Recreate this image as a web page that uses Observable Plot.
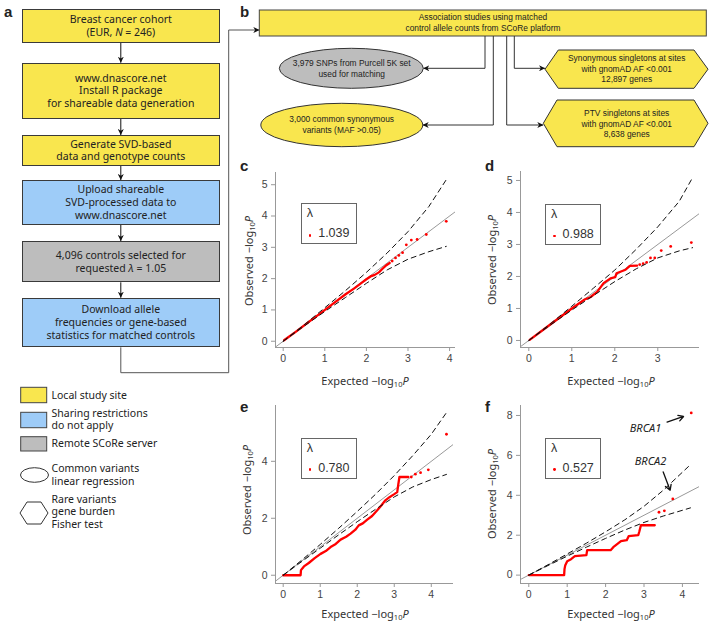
<!DOCTYPE html>
<html><head><meta charset="utf-8">
<script src="https://cdn.jsdelivr.net/npm/d3@7"></script>
<script src="https://cdn.jsdelivr.net/npm/@observablehq/plot@0.6"></script>
<style>
html,body{margin:0;padding:0;background:#fff;}
#root{position:relative;width:709px;height:624px;overflow:hidden;font-family:"Noto Sans",sans-serif;color:#222;}
.box{position:absolute;box-sizing:border-box;border:1px solid #3a3a3a;display:flex;align-items:center;justify-content:center;text-align:center;font-size:10.5px;line-height:12.8px;}
.t{position:absolute;white-space:nowrap;font-size:10.5px;line-height:12.5px;}
.plet{position:absolute;font-weight:bold;font-size:15px;font-family:"Liberation Sans",Arial,sans-serif;line-height:15px;}
.xl{position:absolute;font-size:11px;white-space:nowrap;transform:translate(-50%,-50%);color:#333;}
.yl{position:absolute;font-size:11px;white-space:nowrap;transform:translate(-50%,-50%) rotate(-90deg);color:#333;}
.lam{position:absolute;box-sizing:border-box;border:1px solid #666;background:#fff;font-family:"Liberation Sans",Arial,sans-serif;color:#333;}
sub{font-size:7.5px;vertical-align:-2px;}
</style></head><body><div id="root"></div>
<script>
// ---------- text content ----------
const flowA = [
  "Breast cancer cohort<br>(EUR, <i>N</i> = 246)",
  "www.dnascore.net<br>Install R package<br>for shareable data generation",
  "Generate SVD-based<br>data and genotype counts",
  "Upload shareable<br>SVD-processed data to<br>www.dnascore.net",
  "4,096 controls selected for<br>requested <i>λ</i> = 1.05",
  "Download allele<br>frequencies or gene-based<br>statistics for matched controls"
];
const flowKinds = ["local","local","local","open","remote","open"];
const kindColors = {local:"#F9E64E", open:"#9ECCF8", remote:"#BDBDBD"};
const legendLabels = ["Local study site","Sharing restrictions<br>do not apply","Remote SCoRe server","Common variants<br>linear regression","Rare variants<br>gene burden<br>Fisher test"];
const bMain = ["Association studies using matched","control allele counts from SCoRe platform"];
const bCommon = [["3,979 SNPs from Purcell 5K set","used for matching"],["3,000 common synonymous","variants (MAF >0.05)"]];
const bRare = [["Synonymous singletons at sites","with gnomAD AF <0.001","12,897 genes"],["PTV singletons at sites","with gnomAD AF <0.001","8,638 genes"]];
const lambdas = ["1.039","0.988","0.780","0.527"];

// ---------- QQ data (expected, observed) ----------
const diagonal = [-1, 12];
const cDense = [[0.02,0.03],[0.3,0.3],[0.6,0.6],[0.9,0.9],[1.2,1.2],[1.5,1.5],[1.7,1.68],[1.9,1.88],[2.0,1.98],[2.1,2.07],[2.2,2.12],[2.3,2.2],[2.4,2.33],[2.48,2.43],[2.56,2.5]];
const cSparse = [[2.62,2.56],[2.70,2.66],[2.78,2.74],[2.87,2.83],[2.96,3.08],[3.08,3.23],[3.22,3.25],[3.44,3.41],[3.92,3.83]];
const cUpper = [[0,0],[0.5,0.52],[1,1.07],[1.5,1.62],[2,2.2],[2.5,2.82],[3,3.5],[3.5,4.3],[3.92,5.16]];
const cLower = [[0,0],[0.5,0.48],[1,0.95],[1.5,1.4],[2,1.85],[2.5,2.28],[3,2.62],[3.5,2.86],[3.92,3.03]];

const dDense = [[0.02,0.02],[0.5,0.5],[1.0,1.0],[1.3,1.28],[1.43,1.35],[1.59,1.52],[1.74,1.79],[1.90,1.94],[2.01,1.98],[2.04,2.10],[2.25,2.21],[2.35,2.33],[2.52,2.34]];
const dSparse = [[2.58,2.37],[2.66,2.40],[2.74,2.44],[2.83,2.58],[2.93,2.58],[3.08,2.81],[3.30,2.94],[3.78,3.06]];
const dUpper = [[0,0],[0.5,0.52],[1,1.07],[1.5,1.63],[2,2.2],[2.5,2.85],[3,3.55],[3.5,4.35],[3.78,5.02]];
const dLower = [[0,0],[0.5,0.48],[1,0.95],[1.5,1.4],[2,1.84],[2.5,2.24],[3,2.58],[3.5,2.8],[3.81,2.9]];

const eDense = [[0,0],[0.47,0],[0.48,0.18],[0.56,0.31],[0.69,0.43],[0.85,0.6],[1.01,0.75],[1.15,0.85],[1.28,0.99],[1.42,1.1],[1.55,1.25],[1.7,1.35],[1.82,1.46],[1.95,1.6],[2.04,1.75],[2.15,1.82],[2.27,1.95],[2.4,2.08],[2.54,2.28],[2.65,2.45],[2.76,2.63],[2.88,2.75],[2.99,2.84],[3.08,2.92],[3.11,3.2],[3.14,3.45],[3.38,3.45]];
const eSparse = [[3.46,3.45],[3.57,3.55],[3.71,3.6],[3.92,3.7],[4.41,4.95]];
const eUpper = [[0,0],[0.5,0.53],[1,1.08],[1.5,1.65],[2,2.24],[2.5,2.85],[3,3.5],[3.5,4.2],[4,4.95],[4.41,5.71]];
const eLower = [[0,0],[0.5,0.48],[1,0.95],[1.5,1.42],[2,1.88],[2.5,2.32],[3,2.75],[3.5,3.1],[4,3.36],[4.41,3.54]];

const fDense = [[0,0],[0.92,0],[0.93,0.3],[0.95,0.5],[1.0,0.7],[1.1,0.8],[1.2,0.95],[1.5,1.0],[1.52,1.25],[2.13,1.25],[2.2,1.4],[2.3,1.55],[2.4,1.7],[2.55,1.75],[2.6,1.95],[2.85,2.0],[2.88,2.2],[2.92,2.5],[3.28,2.5]];
const fSparse = [[3.39,3.15],[3.53,3.22],[3.75,3.82],[4.23,8.13]];
const fUpper = [[0,0],[0.5,0.52],[1,1.06],[1.5,1.6],[2,2.17],[2.5,2.77],[3,3.45],[3.5,4.25],[4.19,5.5]];
const fLower = [[0,0],[0.5,0.48],[1,0.95],[1.5,1.4],[2,1.84],[2.5,2.26],[3,2.64],[3.5,2.96],[4.21,3.37]];
const fGenes = [{gene:"BRCA1", x:3.04, y:7.33},{gene:"BRCA2", x:3.17, y:5.72}];
const fArrows = [{x1:3.6,y1:7.67,x2:4.03,y2:7.95},{x1:3.5,y1:5.17,x2:3.68,y2:4.25}];

// ---------- layout ----------
const root = document.getElementById("root");
function add(html, cls, css){const d=document.createElement("div");d.className=cls;d.innerHTML=html;Object.assign(d.style,css);root.appendChild(d);return d;}

const svg = d3.select(root).append("svg").attr("width",709).attr("height",624)
  .style("position","absolute").style("left","0px").style("top","0px")
  .style("font-family","'Liberation Sans',Arial,sans-serif");
svg.append("defs").append("marker").attr("id","ah").attr("viewBox","0 0 10 10")
  .attr("refX",10).attr("refY",5).attr("markerWidth",6).attr("markerHeight",6).attr("orient","auto")
  .append("path").attr("d","M0,0L10,5L0,10L3,5z").attr("fill","#111");

// panel a boxes
const aTop=[9.3,62.7,135,180,241,297.7], aBot=[42.7,119,165.7,225,282.3,347.3];
flowA.forEach((txt,i)=>{
  add("<div>"+txt+"</div>","box",{left:"21.7px",top:aTop[i]+"px",width:"198.3px",height:(aBot[i]-aTop[i])+"px",background:kindColors[flowKinds[i]]});
  if(i<flowA.length-1) svg.append("line").attr("x1",120.8).attr("x2",120.8).attr("y1",aBot[i]).attr("y2",aTop[i+1])
     .attr("stroke","#111").attr("marker-end","url(#ah)");
});
svg.append("path").attr("d","M120.8,347.3V372.7H228.7V30H259.3").attr("fill","none").attr("stroke","#555").attr("marker-end","url(#ah)");

// legend
const swY=[[387.3,402.7],[412.3,427.7],[436.7,451]];
["local","open","remote"].forEach((k,i)=>{
  svg.append("rect").attr("x",20.7).attr("y",swY[i][0]).attr("width",26).attr("height",swY[i][1]-swY[i][0])
    .attr("fill",kindColors[k]).attr("stroke","#444");
});
svg.append("ellipse").attr("cx",34.5).attr("cy",475).attr("rx",14).attr("ry",7.3).attr("fill","#fff").attr("stroke","#333");
svg.append("polygon").attr("points","20,513 27,502 41,502 48,513 41,524 27,524").attr("fill","#fff").attr("stroke","#333");
const legTop=[388.5,406.5,437,462,492.5];
legendLabels.forEach((t,i)=>add(t,"t",{left:"51.5px",top:legTop[i]+"px"}));

// panel b
svg.append("rect").attr("x",259.3).attr("y",10).attr("width",447).attr("height",26).attr("fill",kindColors.local).attr("stroke","#444");
function lines(x,ys,arr){arr.forEach((s,i)=>svg.append("text").attr("x",x).attr("y",ys[i]).attr("text-anchor","middle")
  .attr("dominant-baseline","central").attr("font-size",8.4).attr("fill","#222").text(s));}
lines(483,[16.7,27.8],bMain);
[["M485,36V68.3H423.3"],["M493.3,36V125H422.7"],["M506.7,36V125H543.3"],["M514.3,36V68.3H545"]].forEach(d=>
  svg.append("path").attr("d",d[0]).attr("fill","none").attr("stroke","#333").attr("marker-end","url(#ah)"));
svg.append("ellipse").attr("cx",351.3).attr("cy",68.3).attr("rx",72).attr("ry",20).attr("fill","#BDBDBD").attr("stroke","#333");
svg.append("ellipse").attr("cx",341.8).attr("cy",125).attr("rx",81).attr("ry",21.7).attr("fill",kindColors.local).attr("stroke","#333");
lines(351.7,[63.3,73.5],bCommon[0]);
lines(341.7,[118.7,129.5],bCommon[1]);
svg.append("polygon").attr("points","545,69.2 558.3,50 694,50 708,69.2 694,88.3 558.3,88.3").attr("fill",kindColors.local).attr("stroke","#333");
svg.append("polygon").attr("points","543.3,123.3 557,100 694,100 708,123.3 694,146.7 557,146.7").attr("fill",kindColors.local).attr("stroke","#333");
lines(626.7,[58.3,68.5,78.7],bRare[0]);
lines(626.7,[113.3,123.5,133.7],bRare[1]);

// panel letters
[["a",4,4],["b",240,4],["c",240,158],["d",485,158],["e",240,399],["f",485,399]].forEach(([l,x,y])=>
  add(l,"plet",{left:x+"px",top:y+"px"}));

// ---------- QQ plots ----------
function qq(o){
  const mL=32,mR=6,mT=6,mB=26;
  const X=d=>d[0], Y=d=>d[1];
  const marks=[
    Plot.line(diagonal,{x:d=>d,y:d=>d,stroke:"#999",strokeWidth:1,clip:true}),
    Plot.line(o.dense,{x:X,y:Y,stroke:"#f00",strokeWidth:2.3}),
    Plot.dot(o.sparse,{x:X,y:Y,r:1.4,fill:"#f00"}),
    Plot.line(o.upper,{x:X,y:Y,stroke:"#111",strokeWidth:1,strokeDasharray:"5,4"}),
    Plot.line(o.lower,{x:X,y:Y,stroke:"#111",strokeWidth:1,strokeDasharray:"5,4"}),
    Plot.ruleX([o.xd[0]],{stroke:"#999"}),
    Plot.ruleY([o.yd[0]],{stroke:"#999"}),
    Plot.axisX({ticks:o.xt,tickSize:4,tickPadding:3,stroke:"#999",fill:"#444",label:null,tickFormat:d=>String(d)}),
    Plot.axisY({ticks:o.yt,tickSize:4,tickPadding:4,stroke:"#999",fill:"#444",label:null,tickFormat:d=>String(d)})
  ].concat(o.extra||[]);
  const p = Plot.plot({
    width:o.w+mL+mR, height:o.h+mT+mB, marginLeft:mL, marginRight:mR, marginTop:mT, marginBottom:mB,
    x:{domain:o.xd}, y:{domain:o.yd},
    style:{background:"transparent",overflow:"visible",fontFamily:"'Liberation Sans',Arial,sans-serif",fontSize:"10.5px"},
    marks
  });
  p.style.position="absolute"; p.style.left=(o.left-mL)+"px"; p.style.top=(o.top-mT)+"px";
  root.appendChild(p);
  add("Expected −log<sub>10</sub><i>P</i>","xl",{left:o.xlab[0]+"px",top:o.xlab[1]+"px"});
  add("Observed −log<sub>10</sub><i>P</i>","yl",{left:o.ylab[0]+"px",top:o.ylab[1]+"px"});
  const b=o.lbox;
  const box=add("","lam",{left:b[0]+"px",top:b[1]+"px",width:"56px",height:"41px"});
  box.innerHTML=`<div style="position:absolute;left:5px;top:2px;font-size:12.5px;">λ</div>
   <div style="position:absolute;left:7px;top:29.5px;width:2.8px;height:2.8px;border-radius:50%;background:#f00;"></div>
   <div style="position:absolute;left:16.5px;top:22px;font-size:12.5px;">${o.lam}</div>`;
}
qq({left:275,top:172,w:180,h:175,xd:[-0.185,4.142],yd:[-0.2,5.39],xt:[0,1,2,3,4],yt:[0,1,2,3,4,5],
  dense:cDense,sparse:cSparse,upper:cUpper,lower:cLower,xlab:[365,381],ylab:[249,261],lbox:[300.7,203.3],lam:lambdas[0]});
qq({left:520,top:171,w:179,h:176,xd:[-0.193,3.97],yd:[-0.22,5.28],xt:[0,1,2,3],yt:[0,1,2,3,4,5],
  dense:dDense,sparse:dSparse,upper:dUpper,lower:dLower,xlab:[611,381],ylab:[492,260],lbox:[545,204],lam:lambdas[1]});
qq({left:275,top:405,w:178,h:178,xd:[-0.208,4.6],yd:[-0.29,5.96],xt:[0,1,2,3,4],yt:[0,2,4],
  dense:eDense,sparse:eSparse,upper:eUpper,lower:eLower,xlab:[365,614],ylab:[247,490],lbox:[300.7,437.7],lam:lambdas[2]});
qq({left:520,top:405,w:179,h:178,xd:[-0.216,4.445],yd:[-0.42,8.5],xt:[0,1,2,3,4],yt:[0,2,4,6,8],
  dense:fDense,sparse:fSparse,upper:fUpper,lower:fLower,xlab:[611,614],ylab:[492,494],lbox:[545,437.7],lam:lambdas[3],
  extra:[
    Plot.text(fGenes,{x:"x",y:"y",text:"gene",fontStyle:"italic",fontSize:11,fill:"#222",fontFamily:"'Noto Sans',sans-serif"}),
    Plot.arrow(fArrows,{x1:"x1",y1:"y1",x2:"x2",y2:"y2",stroke:"#111",strokeWidth:1.3,headLength:7})
  ]});
</script></body></html>
